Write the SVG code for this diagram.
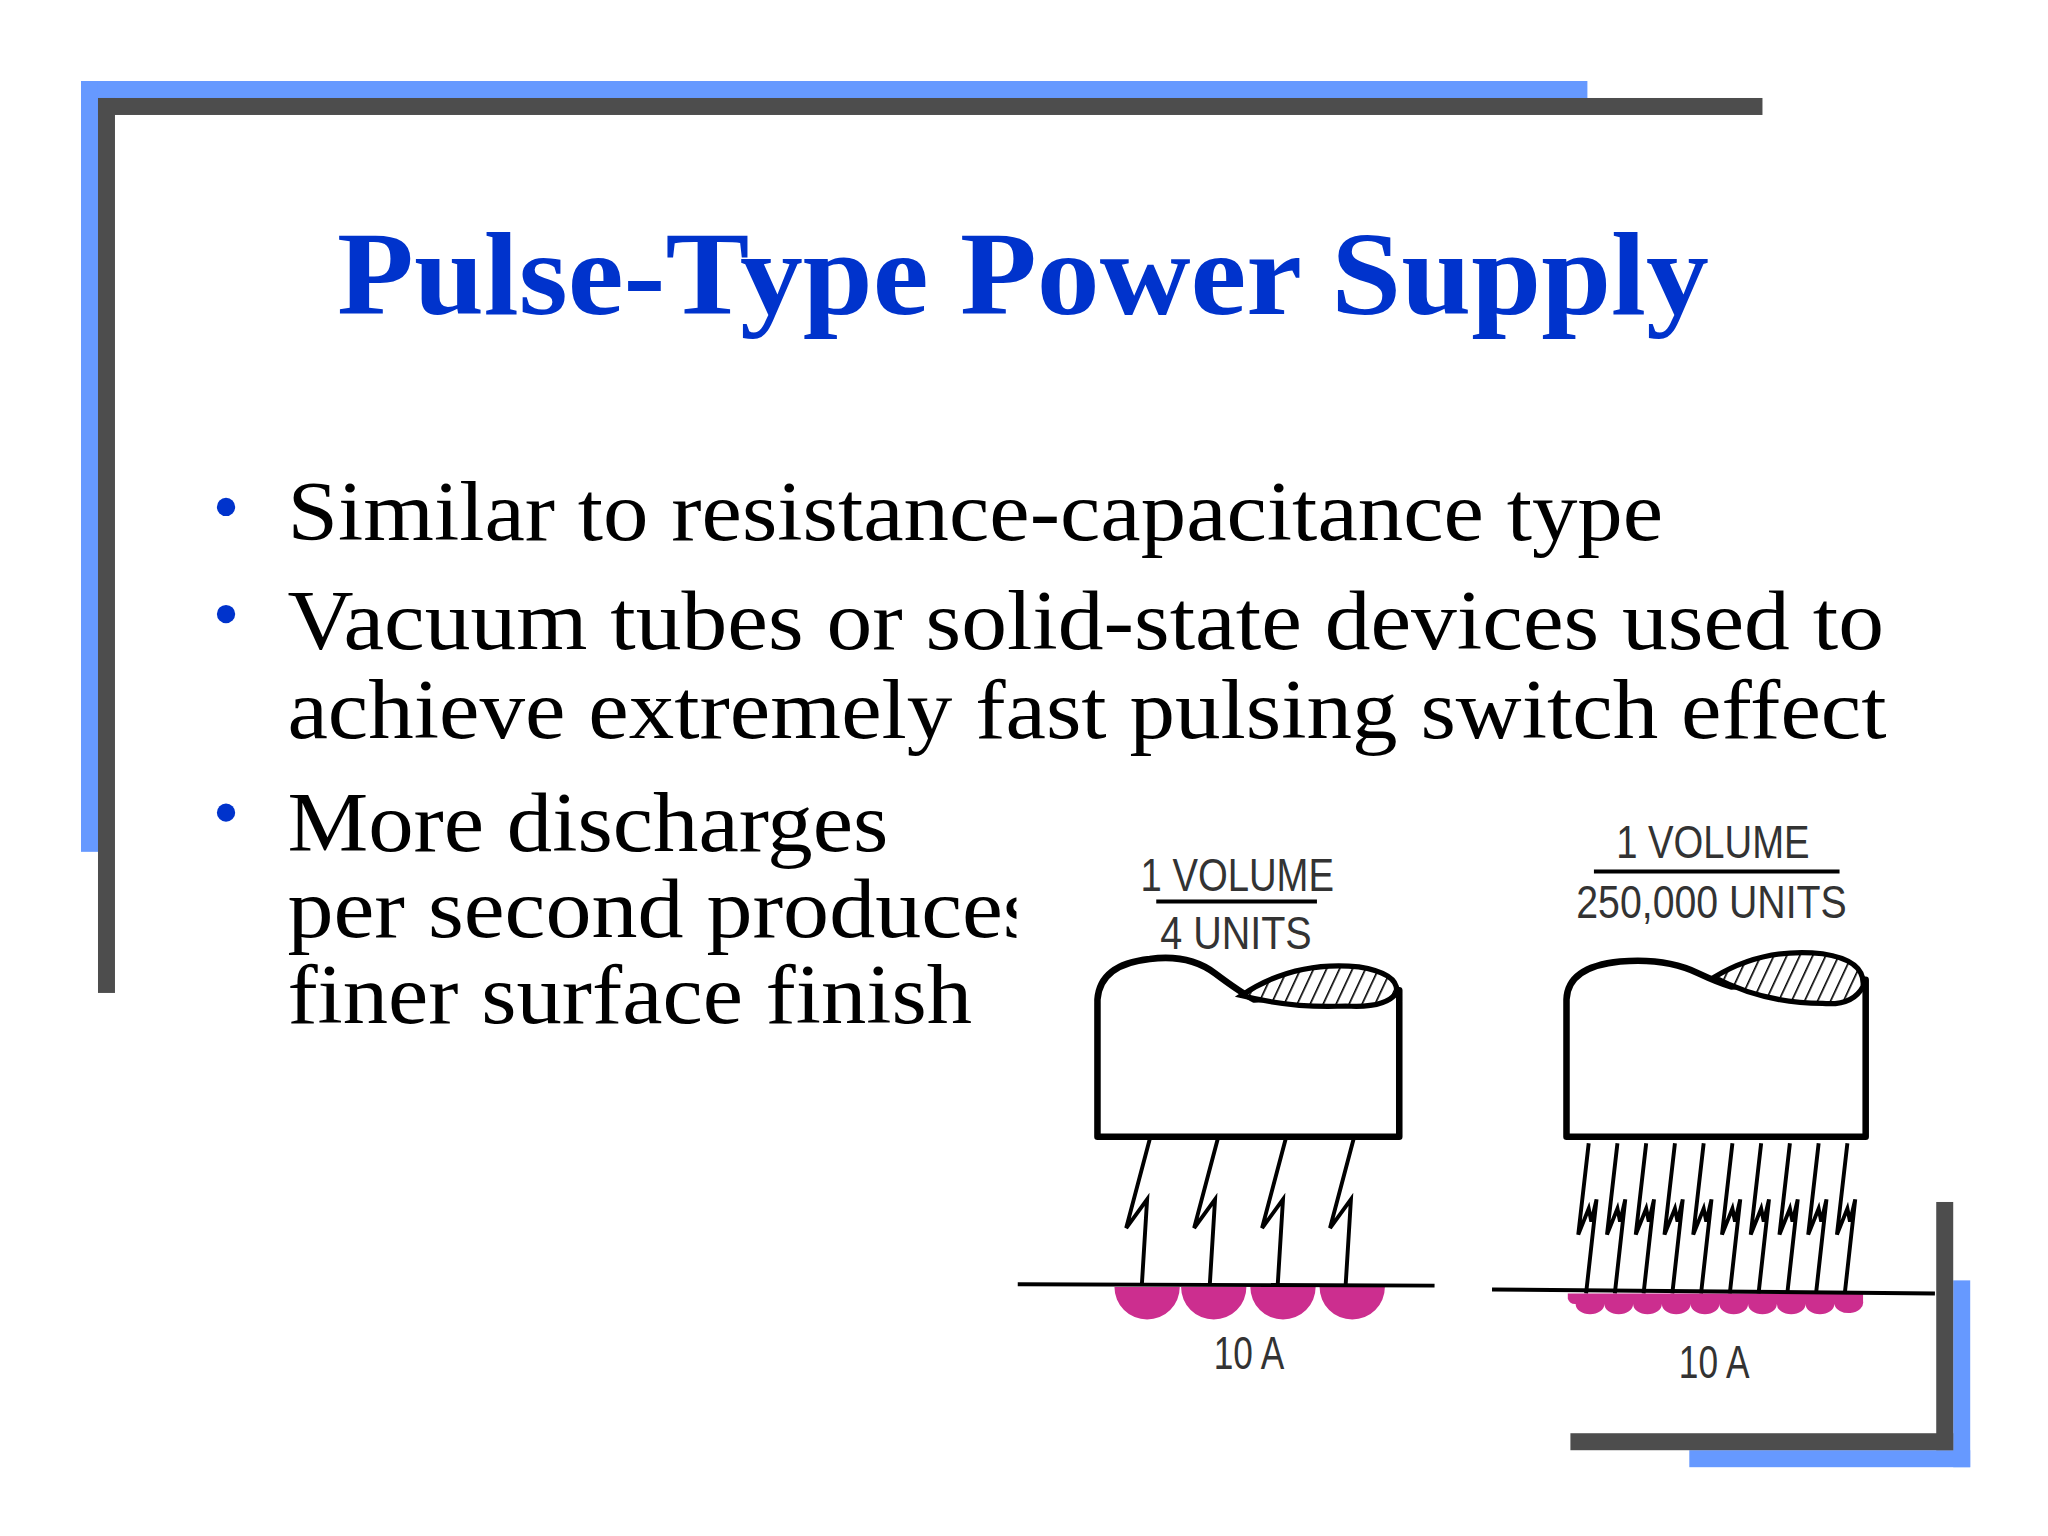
<svg xmlns="http://www.w3.org/2000/svg" width="2048" height="1536" viewBox="0 0 2048 1536">
<style>
.b{fill:#6699ff}.d{fill:#4d4d4d}
.t{font-family:"Liberation Serif",serif;font-size:64px;fill:#000}
.dot{fill:#0033cc}
.lab{font-family:"Liberation Sans",Arial,sans-serif;font-size:36px;fill:#333}
.ln{stroke:#000;stroke-width:3;fill:none}
.tool{stroke:#000;stroke-width:5;fill:#fff;stroke-linejoin:round}
.mg{fill:#cc2e8f}
</style>
<defs>
<pattern id="h" patternUnits="userSpaceOnUse" width="9" height="9" patternTransform="rotate(25)"><rect width="9" height="9" fill="#fff"/><line x1="0" y1="0" x2="0" y2="9" stroke="#000" stroke-width="2.5"/></pattern>
<clipPath id="c"><rect x="0" y="0" width="778" height="1164"/></clipPath>
</defs>
<rect width="2048" height="1536" fill="#fff"/>
<g transform="scale(1.3065)">
<g id="frame">
<rect class="b" x="62" y="62" width="1153" height="13"/><rect class="b" x="62" y="62" width="13" height="590"/>
<rect class="d" x="75" y="75" width="1274" height="13"/><rect class="d" x="75" y="75" width="13" height="685"/>
<rect class="b" x="1293" y="1110" width="215" height="13"/><rect class="b" x="1495" y="980" width="13" height="143"/>
<rect class="d" x="1202" y="1097" width="293" height="13"/><rect class="d" x="1482" y="920" width="13" height="190"/>
</g>
<text id="title" x="783" y="240" text-anchor="middle" font-family="Liberation Serif,serif" font-weight="bold" font-size="90" fill="#0033cc" textLength="1050" lengthAdjust="spacingAndGlyphs">Pulse-Type Power Supply</text>
<g id="bullets">
<circle class="dot" cx="173" cy="388" r="7"/><circle class="dot" cx="173" cy="470" r="7"/><circle class="dot" cx="173" cy="622" r="7"/>
<text class="t" x="220" y="413" textLength="1053" lengthAdjust="spacingAndGlyphs">Similar to resistance-capacitance type</text>
<text class="t" x="220" y="497" textLength="1222" lengthAdjust="spacingAndGlyphs">Vacuum tubes or solid-state devices used to</text>
<text class="t" x="220" y="565" textLength="1224" lengthAdjust="spacingAndGlyphs">achieve extremely fast pulsing switch effect</text>
<text class="t" x="220" y="651" textLength="460" lengthAdjust="spacingAndGlyphs">More discharges</text>
<text class="t" x="220" y="717" clip-path="url(#c)" textLength="575" lengthAdjust="spacingAndGlyphs">per second produces</text>
<text class="t" x="220" y="783" textLength="524" lengthAdjust="spacingAndGlyphs">finer surface finish</text>
</g>
<g id="left-tool">
<text class="lab" x="947" y="682" text-anchor="middle" textLength="148" lengthAdjust="spacingAndGlyphs">1 VOLUME</text>
<line x1="885" y1="690" x2="1008" y2="690" stroke="#000" stroke-width="3"/>
<text class="lab" x="946" y="726" text-anchor="middle" textLength="116" lengthAdjust="spacingAndGlyphs">4 UNITS</text>
<path class="tool" d="M840 870 L840 765 Q842 738 880 734 Q910 730 930 745 Q950 760 960 765 L1071 758 L1071 870 Z"/>
<path d="M950 762 Q990 735 1040 740 Q1071 745 1069 760 Q1060 772 1030 770 Q990 772 950 762 Z" fill="url(#h)" stroke="#000" stroke-width="4"/>
<path class="ln" d="M880 872 L862 940 L878 918 L874 983 M932 872 L914 940 L930 918 L926 983 M984 872 L966 940 L982 918 L978 983 M1036 872 L1018 940 L1034 918 L1030 983"/>
<path class="mg" d="M853 985 A25 25 0 0 0 903 985 Z M904 985 A25 25 0 0 0 954 985 Z M957 985 A25 25 0 0 0 1007 985 Z M1010 985 A25 25 0 0 0 1060 985 Z"/>
<line x1="779" y1="983" x2="1098" y2="984" stroke="#000" stroke-width="3"/>
<text class="lab" x="956" y="1048" text-anchor="middle" textLength="54" lengthAdjust="spacingAndGlyphs">10 A</text>
</g>
<g id="right-tool">
<text class="lab" x="1311" y="657" text-anchor="middle" textLength="148" lengthAdjust="spacingAndGlyphs">1 VOLUME</text>
<line x1="1220" y1="667" x2="1408" y2="667" stroke="#000" stroke-width="3"/>
<text class="lab" x="1310" y="703" text-anchor="middle" textLength="207" lengthAdjust="spacingAndGlyphs">250,000 UNITS</text>
<path class="tool" d="M1199 870 L1199 765 Q1200 740 1240 736 Q1275 733 1300 745 Q1315 752 1325 755 L1428 750 L1428 870 Z"/>
<path d="M1312 748 Q1350 725 1395 730 Q1428 735 1426 755 Q1418 770 1395 768 Q1350 768 1312 748 Z" fill="url(#h)" stroke="#000" stroke-width="4"/>
<path class="ln" d="M1216 875 L1208 945 L1216 925 L1218 935 L1222 918 L1214 990 M1238 875 L1230 945 L1238 925 L1240 935 L1244 918 L1236 990 M1260 875 L1252 945 L1260 925 L1262 935 L1266 918 L1258 990 M1282 875 L1274 945 L1282 925 L1284 935 L1288 918 L1280 990 M1304 875 L1296 945 L1304 925 L1306 935 L1310 918 L1302 990 M1326 875 L1318 945 L1326 925 L1328 935 L1332 918 L1324 990 M1348 875 L1340 945 L1348 925 L1350 935 L1354 918 L1346 990 M1370 875 L1362 945 L1370 925 L1372 935 L1376 918 L1368 990 M1392 875 L1384 945 L1392 925 L1394 935 L1398 918 L1390 990 M1414 875 L1406 945 L1414 925 L1416 935 L1420 918 L1412 990"/>
<path class="mg" d="M1200 990 L1426 990 L1426 996 A11 8 0 0 1 1404 998 A11 8 0 0 1 1382 998 A11 8 0 0 1 1360 998 A11 8 0 0 1 1338 998 A11 8 0 0 1 1316 998 A11 8 0 0 1 1294 998 A11 8 0 0 1 1272 998 A11 8 0 0 1 1250 998 A11 8 0 0 1 1228 998 A11 8 0 0 1 1206 998 A6 6 0 0 1 1200 994 Z"/>
<line x1="1142" y1="987" x2="1481" y2="990" stroke="#000" stroke-width="3"/>
<text class="lab" x="1312" y="1055" text-anchor="middle" textLength="54" lengthAdjust="spacingAndGlyphs">10 A</text>
</g>
</g>
</svg>
